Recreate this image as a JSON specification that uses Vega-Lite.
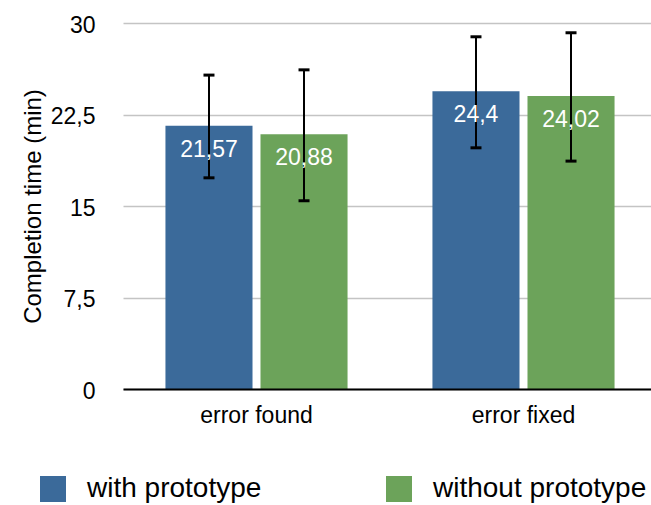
{
  "$schema": "https://vega.github.io/schema/vega-lite/v6.json",
  "autosize": {"type": "none"},
  "padding": {"left": 123, "top": 23, "right": 0, "bottom": 116},
  "width": 534,
  "height": 366,
  "config": {
    "view": {"stroke": null},
    "font": "Liberation Sans",
    "locale": {"number": {"decimal": ",", "thousands": ".", "grouping": [3], "currency": ["", " €"]}}
  },
  "data": {
    "values": [
      {"task": "error found", "group": "with prototype", "time": 21.57, "lo": 17.31, "hi": 25.73},
      {"task": "error found", "group": "without prototype", "time": 20.88, "lo": 15.43, "hi": 26.16},
      {"task": "error fixed", "group": "with prototype", "time": 24.4, "lo": 19.77, "hi": 28.87},
      {"task": "error fixed", "group": "without prototype", "time": 24.02, "lo": 18.68, "hi": 29.2}
    ]
  },
  "encoding": {
    "x": {
      "field": "task", "type": "nominal", "sort": ["error found", "error fixed"],
      "scale": {"paddingInner": 0.318, "paddingOuter": 0.159},
      "axis": {"title": null, "labelAngle": 0, "labelFontSize": 23, "labelColor": "#000", "labelPadding": 15, "ticks": false, "domainColor": "#000", "domainWidth": 2, "zindex": 1}
    },
    "xOffset": {
      "field": "group", "type": "nominal", "sort": ["with prototype", "without prototype"],
      "scale": {"paddingInner": 0.084, "paddingOuter": 0}
    }
  },
  "layer": [
    {
      "mark": {"type": "bar"},
      "encoding": {
        "y": {
          "field": "time", "type": "quantitative",
          "scale": {"domain": [0, 30], "nice": false},
          "axis": {
            "title": "Completion time (min)", "titleFontSize": 24, "titleFontWeight": "normal", "titleColor": "#000", "titlePadding": 5,
            "values": [0, 7.5, 15, 22.5, 30], "format": ".1~f",
            "labelFontSize": 23, "labelColor": "#000", "labelPadding": 28, "labelOffset": 2,
            "ticks": false, "domain": false,
            "grid": true, "gridColor": "#c4c4c4", "gridWidth": 1.5
          }
        },
        "color": {
          "field": "group", "type": "nominal",
          "scale": {"domain": ["with prototype", "without prototype"], "range": ["#3b6a9a", "#6ca35a"]},
          "legend": {
            "title": null, "orient": "none", "direction": "horizontal", "legendX": -84, "legendY": 452,
            "symbolType": "square", "symbolSize": 676, "symbolStrokeWidth": 0, "symbolOpacity": 1,
            "labelFontSize": 28, "labelColor": "#000", "labelOffset": 20, "columnPadding": 123, "padding": 0, "labelLimit": 400
          }
        }
      }
    },
    {
      "mark": {"type": "rule", "color": "#000", "strokeWidth": 2},
      "encoding": {
        "y": {"field": "lo", "type": "quantitative"},
        "y2": {"field": "hi"}
      }
    },
    {
      "mark": {"type": "tick", "color": "#000", "thickness": 3, "size": 11, "opacity": 1},
      "encoding": {"y": {"field": "lo", "type": "quantitative"}}
    },
    {
      "mark": {"type": "tick", "color": "#000", "thickness": 3, "size": 11, "opacity": 1},
      "encoding": {"y": {"field": "hi", "type": "quantitative"}}
    },
    {
      "mark": {"type": "text", "color": "#fff", "fontSize": 23, "align": "center", "baseline": "alphabetic", "dy": 31},
      "encoding": {
        "y": {"field": "time", "type": "quantitative"},
        "text": {"field": "time", "type": "quantitative", "format": "~g"}
      }
    }
  ]
}
